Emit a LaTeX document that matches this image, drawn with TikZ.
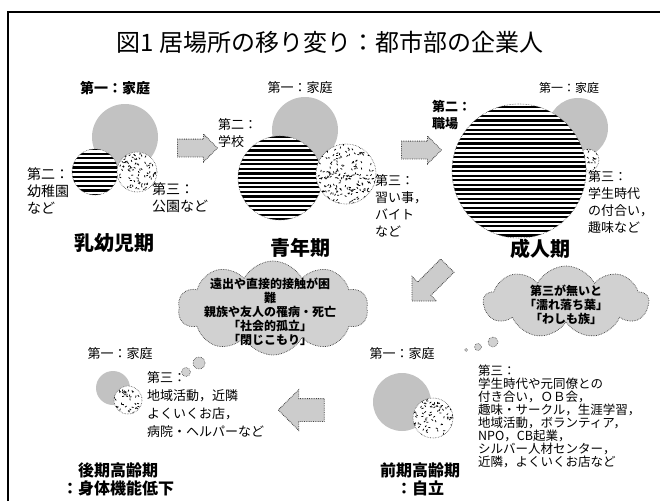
\documentclass[tikz,border=0pt]{standalone}
\usepackage{fontspec}
\setmainfont{Noto Sans CJK JP}
\usetikzlibrary{shapes.arrows,shapes.symbols}
\tikzset{
 lbl/.style={font=\fontsize{13}{17}\selectfont, inner sep=0, align=left, anchor=west},
 lblb/.style={lbl, font=\bfseries\fontsize{13}{17}\selectfont},
 period/.style={font=\bfseries\fontsize{20}{22}\selectfont, inner sep=0, align=center},
 blockarrow/.style={single arrow, fill=black!20, draw=black!75, densely dotted, line width=0.8, inner xsep=0, single arrow tip angle=90},
 cloudbox/.style={cloud, cloud puffs=10, cloud puff arc=125, fill=black!18, draw=black!75, densely dotted, line width=0.7, inner sep=0},
 bubble/.style={circle, fill=black!18, draw=black!75, densely dotted, line width=0.6, inner sep=0},
 greydisk/.style={fill=black!24},
 cloudtxt/.style={font=\bfseries\fontsize{12}{14}\selectfont, align=center, inner sep=0},
}
\newcommand\stripedisk[3]{%
 \fill[white] (#1,#2) circle (#3);
 \begin{scope}
  \clip (#1,#2) circle (#3);
  \foreach \k in {-16,...,16}
   \fill ({#1-#3},{#2+\k*4.6-1.1}) rectangle ++({2*#3},2.3);
 \end{scope}
 \draw[black!70, densely dotted, line width=0.6] (#1,#2) circle (#3);
}
\newcommand\speckdisk[4]{%
 \fill[white] (#1,#2) circle (#3);
 \begin{scope}
  \clip (#1,#2) circle (#3);
  \pgfmathsetseed{#4}
  \pgfmathtruncatemacro\nspk{#3*#3*0.20}
  \foreach \i in {1,...,\nspk}{
   \pgfmathsetmacro\spa{rnd*360}
   \pgfmathsetmacro\spd{sqrt(rnd)*#3}
   \pgfmathsetmacro\spb{rnd*360}
   \draw[line width=0.75] ({#1+\spd*cos(\spa)},{#2+\spd*sin(\spa)}) -- ++(\spb:2);
  }
 \end{scope}
 \draw[black!70, densely dotted, line width=0.6] (#1,#2) circle (#3);
}
\begin{document}
\begin{tikzpicture}[x=1pt,y=-1pt]
\useasboundingbox (0,0) rectangle (660,501);
\fill[white] (0,0) rectangle (660,501);
\draw[line width=2] (8,501) -- (8,12);
\draw[line width=1.2] (7,12) -- (660,12);

\node[font=\fontsize{24}{28}\selectfont, inner sep=0] (title) at (330,42) {図1 居場所の移り変り：都市部の企業人};

% panel 1
\fill[greydisk] (125,137) circle (33);
\stripedisk{95}{172}{23}
\speckdisk{137}{172}{20}{11}
\node[lblb, anchor=center, font=\bfseries\fontsize{14}{17}\selectfont] (p1a) at (115,88) {第一：家庭};
\node[lbl, font=\fontsize{14}{17}\selectfont] (p1b) at (27,191) {第二：\\幼稚園\\など};
\node[lbl, font=\fontsize{14}{17}\selectfont] (p1c) at (152,197.5) {第三：\\公園など};
\node[period] (p1p) at (114,243) {乳幼児期};

% panel 2
\fill[greydisk] (305,130) circle (33);
\stripedisk{280}{178}{42}
\speckdisk{346}{174}{30}{22}
\node[lbl, anchor=center] (p2a) at (300,88) {第一：家庭};
\node[lbl] (p2b) at (218,133.5) {第二：\\学校};
\node[lbl] (p2c) at (375,205.5) {第三：\\習い事，\\バイト\\など};
\node[period] (p2p) at (300,248) {青年期};

% panel 3
\fill[greydisk] (578,128) circle (30);
\speckdisk{588}{160}{11}{33}
\stripedisk{519}{171}{67}
\node[lbl, anchor=center, font=\fontsize{12}{17}\selectfont] (p3a) at (569,88) {第一：家庭};
\node[lblb] (p3b) at (432,115.5) {第二：\\職場};
\node[lbl] (p3c) at (588,202.5) {第三：\\学生時代\\の付合い，\\趣味など};
\node[period] (p3p) at (540,249) {成人期};

% arrows
\node[blockarrow, inner ysep=8.5, single arrow head extend=5, minimum height=40] (ar1) at (193,148) {};
\node[blockarrow, inner ysep=8.5, single arrow head extend=5, minimum height=40] (ar2) at (417,150) {};
\node[blockarrow, inner ysep=9, single arrow head extend=8, minimum height=50, rotate=225] (ar3) at (433,280) {};
\node[blockarrow, inner ysep=11, single arrow head extend=9, minimum height=46, shape border rotate=180] (ar4) at (307,410) {};

% cloud 1
\node[cloudbox, minimum width=190, minimum height=94] (cl1) at (273,308) {};
\node[cloudtxt] (cl1t) at (270,312) {遠出や直接的接触が困\\難\\親族や友人の罹病・死亡\\「社会的孤立」\\「閉じこもり」};
\node[bubble, minimum size=9] (b1) at (186,372) {};
\node[bubble, minimum size=12] (b2) at (199,363) {};

% cloud 2
\node[cloudbox, cloud puffs=9, minimum width=165, minimum height=72] (cl2) at (566,302) {};
\node[cloudtxt] (cl2t) at (566,305) {第三が無いと\\「濡れ落ち葉」\\「わしも族」};
\node[bubble, minimum size=3] (b3) at (466,350) {};
\node[bubble, minimum size=7] (b4) at (478,347) {};
\node[bubble, minimum size=10] (b5) at (493,342) {};

% bottom left
\fill[greydisk] (113,388) circle (17);
\speckdisk{128}{400}{14}{44}
\node[lbl, anchor=center] (q1a) at (120,354) {第一：家庭};
\node[lbl, font=\fontsize{13}{18}\selectfont] (q1c) at (147,404.5) {第三：\\地域活動，近隣\\よくいくお店，\\病院・ヘルパーなど};
\node[period, font=\bfseries\fontsize{16}{18}\selectfont] (q1p) at (118,479) {後期高齢期\\：身体機能低下};

% bottom right
\fill[greydisk] (402,402) circle (29);
\speckdisk{433}{418}{20}{55}
\node[lbl, anchor=center] (q2a) at (402,354) {第一：家庭};
\node[lbl, font=\fontsize{12.5}{13}\selectfont] (q2c) at (478,416.5) {第三：\\学生時代や元同僚との\\付き合い，ＯＢ会，\\趣味・サークル，生涯学習，\\地域活動，ボランティア，\\NPO，CB起業，\\シルバー人材センター，\\近隣，よくいくお店など};
\node[period, font=\bfseries\fontsize{16}{18}\selectfont] (q2p) at (420,479) {前期高齢期\\：自立};
\end{tikzpicture}
\end{document}
